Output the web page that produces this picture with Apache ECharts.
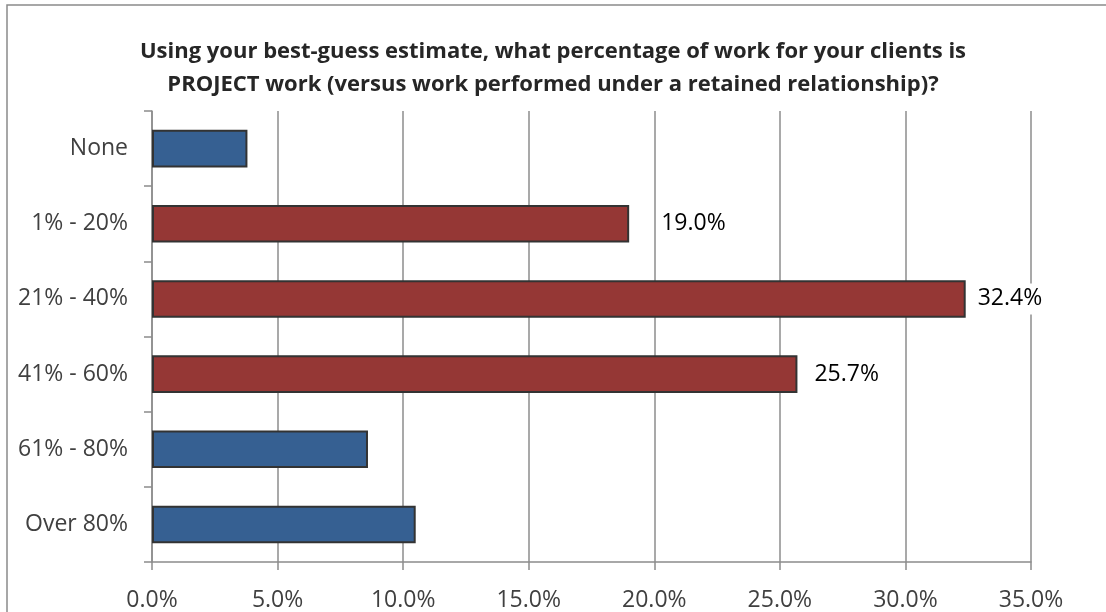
<!DOCTYPE html>
<html>
<head>
<meta charset="utf-8">
<script src="https://cdn.jsdelivr.net/npm/echarts@6/dist/echarts.min.js"></script>
<style>
  html, body { margin: 0; padding: 0; background: #fff; }
  #chart { width: 1106px; height: 612px; }
</style>
</head>
<body>
<div id="chart"></div>
<script>
// Share of work that is project work, by answer bucket
const categories = ['None', '1% - 20%', '21% - 40%', '41% - 60%', '61% - 80%', 'Over 80%'];
const shares = [3.8, 19.0, 32.4, 25.7, 8.6, 10.5];
// Buckets that are highlighted (and labelled) in red
const highlighted = [false, true, true, true, false, false];
// Extra gap between bar end and its value label
const labelGaps = [0, 30, 10, 15, 0, 0];

const BLUE = '#366092';
const RED = '#953735';
const GRID = '#8c8c8c';
const FONT = '"Open Sans", "DejaVu Sans", sans-serif';

const chart = echarts.init(document.getElementById('chart'), null, { renderer: 'canvas' });

const barData = shares.map((v, i) => ({
  value: v,
  itemStyle: { color: highlighted[i] ? RED : BLUE },
  label: {
    show: highlighted[i],
    distance: labelGaps[i]
  }
}));

chart.setOption({
  animation: false,
  backgroundColor: '#fff',
  title: {
    text: 'Using your best-guess estimate, what percentage of work for your clients is\nPROJECT work (versus work performed under a retained relationship)?',
    left: 'center',
    top: 30,
    textStyle: {
      fontFamily: FONT,
      fontWeight: 'bold',
      fontSize: 22,
      lineHeight: 33,
      color: '#262626'
    }
  },
  graphic: [{
    type: 'polyline',
    shape: { points: [[7, 700], [7, 5], [1106, 5]] },
    style: { stroke: '#8a8a8a', lineWidth: 1.5, fill: null },
    silent: true
  }],
  grid: { left: 152, right: 75, top: 111, bottom: 50, containLabel: false },
  xAxis: {
    type: 'value',
    min: 0,
    max: 35,
    interval: 5,
    axisLine: { show: true, lineStyle: { color: GRID, width: 1.5 } },
    axisTick: { show: true, length: 8, lineStyle: { color: GRID, width: 1.5 } },
    splitLine: { show: true, lineStyle: { color: GRID, width: 1.5 } },
    axisLabel: {
      formatter: v => v.toFixed(1) + '%',
      fontFamily: FONT,
      fontSize: 23,
      color: '#404040',
      margin: 27
    }
  },
  yAxis: {
    type: 'category',
    data: categories,
    inverse: true,
    axisLine: { show: true, lineStyle: { color: GRID, width: 1.5 } },
    axisTick: { show: true, length: 8, alignWithLabel: false, lineStyle: { color: GRID, width: 1.5 } },
    splitLine: { show: false },
    axisLabel: {
      fontFamily: FONT,
      fontSize: 23,
      color: '#404040',
      margin: 24
    }
  },
  series: [{
    type: 'bar',
    data: barData,
    barWidth: '50%',
    itemStyle: { borderColor: '#333333', borderWidth: 2 },
    label: {
      position: 'right',
      formatter: p => p.value.toFixed(1) + '%',
      fontFamily: FONT,
      fontSize: 23,
      color: '#000',
      backgroundColor: '#fff',
      padding: [4, 2, 4, 2]
    }
  }]
});
</script>
</body>
</html>
